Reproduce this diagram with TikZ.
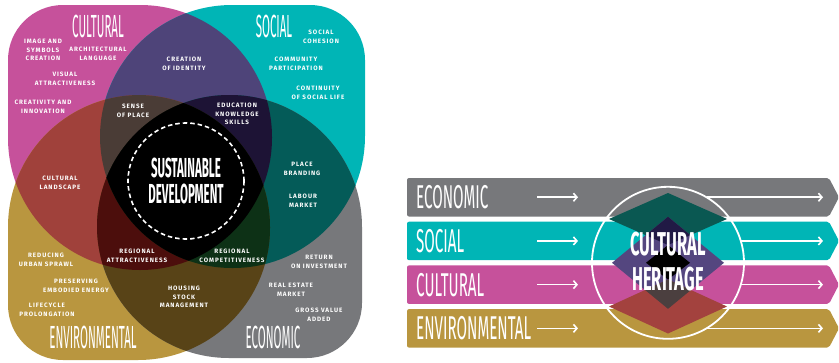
\documentclass[tikz,border=0pt]{standalone}
\usepackage{fontspec}
\usetikzlibrary{arrows.meta}
\newfontfamily\labelfont{Fira Sans}[LetterSpace=15]
\newfontfamily\titlefont{Fira Sans}[FakeStretch=0.36]
\newfontfamily\barfont{Fira Sans}[FakeStretch=0.46]
\newfontfamily\heritagefont{Fira Sans}[FakeStretch=0.5]
\newfontfamily\sdfont{Fira Sans}[FakeStretch=0.42]
\definecolor{culColor}{RGB}{198,81,155}
\definecolor{socColor}{RGB}{0,181,182}
\definecolor{envColor}{RGB}{185,150,63}
\definecolor{ecoColor}{RGB}{119,120,123}
\definecolor{culSoc}{RGB}{78,68,121}
\definecolor{culEnv}{RGB}{160,65,59}
\definecolor{socEco}{RGB}{4,91,88}
\definecolor{envEco}{RGB}{88,67,23}
\definecolor{culSocEnv}{RGB}{74,60,54}
\definecolor{culSocEco}{RGB}{29,19,53}
\definecolor{culEnvEco}{RGB}{76,14,12}
\definecolor{socEnvEco}{RGB}{13,49,22}
\definecolor{starTop}{RGB}{10,88,82}
\definecolor{starMid}{RGB}{84,70,127}
\definecolor{starBottom}{RGB}{163,66,62}
\definecolor{starNavy}{RGB}{33,26,69}
\definecolor{starBrown}{RGB}{75,63,63}
%% rounded blob: left, top, right, bottom, radii TL TR BR BL
\newcommand{\blob}[8]{(#1,#2+#5) arc[start angle=180,end angle=270,radius=#5]
  -- (#3-#6,#2) arc[start angle=270,end angle=360,radius=#6]
  -- (#3,#4-#7) arc[start angle=0,end angle=90,radius=#7]
  -- (#1+#8,#4) arc[start angle=90,end angle=180,radius=#8] -- cycle}
\def\culpath{\blob{8}{5}{272}{270}{55}{132}{132}{132}}
\def\socpath{\blob{100}{5}{365}{268}{132}{55}{132}{132}}
\def\envpath{\blob{8}{95}{270}{360}{132}{132}{132}{55}}
\def\ecopath{\blob{97}{95}{362}{358}{132}{132}{55}{132}}
\begin{document}
\begin{tikzpicture}
[x=1pt,y=-1pt,
  labelDecorate/.style={text=white,align=center,inner sep=0pt,
    font=\labelfont\bfseries\fontsize{6.3}{8.7}\selectfont},%
  titleDecorate/.style={text=white,inner sep=0pt,font=\titlefont\fontsize{32}{32}\selectfont},%
  barDecorate/.style={text=white,inner sep=0pt,anchor=west,font=\barfont\fontsize{33}{33}\selectfont},%
  arrowDecorate/.style={white,line width=1.6pt,-{Straight Barb[length=3.5pt,width=8pt]}}]
\useasboundingbox (0,0) rectangle (839,362);
%% four areas
\fill[culColor] \culpath;
\fill[socColor] \socpath;
\fill[envColor] \envpath;
\fill[ecoColor] \ecopath;
%% overlaps of two
\begin{scope}\clip \culpath; \fill[culSoc] \socpath; \end{scope}
\begin{scope}\clip \culpath; \fill[culEnv] \envpath; \end{scope}
\begin{scope}\clip \socpath; \fill[socEco] \ecopath; \end{scope}
\begin{scope}\clip \envpath; \fill[envEco] \ecopath; \end{scope}
%% overlaps of three
\begin{scope}\clip \culpath; \clip \socpath; \fill[culSocEnv] \envpath; \end{scope}
\begin{scope}\clip \culpath; \clip \socpath; \fill[culSocEco] \ecopath; \end{scope}
\begin{scope}\clip \culpath; \clip \envpath; \fill[culEnvEco] \ecopath; \end{scope}
\begin{scope}\clip \socpath; \clip \envpath; \fill[socEnvEco] \ecopath; \end{scope}
\begin{scope}\clip \culpath; \clip \socpath; \clip \envpath; \fill[black] \ecopath; \end{scope}
\draw[white,line width=1.6pt,dash pattern=on 4.5pt off 3pt] (186,181) circle[radius=58];
\node[text=white,align=center,inner sep=0pt,font=\sdfont\bfseries\fontsize{27.5}{26.5}\selectfont]
  (sustainable) at (186,181) {SUSTAINABLE\\DEVELOPMENT};
%% titles
\foreach \nodename/\x/\y/\words in {
  culTitle/98/26/CULTURAL, socTitle/274/26/SOCIAL,
  envTitle/93/337/ENVIRONMENTAL, ecoTitle/273/337/ECONOMIC}
{
  \node[titleDecorate] (\nodename) at (\x,\y) {\words};
}
%% labels
\foreach \nodename/\x/\y/\words in {
  imageSymbols/43/50/IMAGE AND\\SYMBOLS\\CREATION,
  archLanguage/98/54/ARCHITECTURAL\\LANGUAGE,
  visualAttr/65/79/VISUAL\\ATTRACTIVENESS,
  creativity/43/107/CREATIVITY AND\\INNOVATION,
  identity/184/64/CREATION\\OF IDENTITY,
  senseOfPlace/133/111/SENSE\\OF PLACE,
  cohesion/321/37/SOCIAL\\COHESION,
  community/296/64/COMMUNITY\\PARTICIPATION,
  continuity/318/93/CONTINUITY\\OF SOCIAL LIFE,
  education/237/114/EDUCATION\\KNOWLEDGE\\SKILLS,
  branding/302/169/PLACE\\BRANDING,
  labour/303/201/LABOUR\\MARKET,
  landscape/60/183/CULTURAL\\LANDSCAPE,
  attractiveness/137/256/REGIONAL\\ATTRACTIVENESS,
  competitiveness/232/256/REGIONAL\\COMPETITIVENESS,
  investment/319/262/RETURN\\ON INVESTMENT,
  sprawl/46/260/REDUCING\\URBAN SPRAWL,
  energy/76/286/PRESERVING\\EMBODIED ENERGY,
  housing/184/297/HOUSING\\STOCK\\MANAGEMENT,
  realEstate/291/290/REAL ESTATE\\MARKET,
  lifecycle/47/310/LIFECYCLE\\PROLONGATION,
  grossValue/319/315/GROSS VALUE\\ADDED}
{
  \node[labelDecorate] (\nodename) at (\x,\y) {\words};
}
%% bars
\foreach \nodename/\y/\col/\xs/\words in {
  ecoBar/178/ecoColor/706.5/ECONOMIC, socBar/221.7/socColor/740.8/SOCIAL,
  culBar/265.4/culColor/740.8/CULTURAL, envBar/309.1/envColor/706.5/ENVIRONMENTAL}
{
  \fill[\col,rounded corners=2pt] (407,\y) -- (829,\y) -- (839,\y+19.25)
    -- (829,\y+38.5) -- (407,\y+38.5) -- cycle;
  \node[barDecorate] (\nodename) at (416,\y+19.25) {\words};
  \coordinate (\nodename A) at (537,\y+19.25);
  \coordinate (\nodename B) at (578,\y+19.25);
  \coordinate (\nodename C) at (\xs,\y+19.25);
  \coordinate (\nodename D) at (823,\y+19.25);
}
%% star
\fill[starTop] (668,193) -- (727,219) -- (668,245) -- (609,219) -- cycle;
\fill[starMid] (668,216.8) -- (724,262.8) -- (668,308.8) -- (612,262.8) -- cycle;
\fill[starBottom] (668,279.5) -- (727,306.5) -- (668,333.5) -- (609,306.5) -- cycle;
\begin{scope}
  \clip (668,193) -- (727,219) -- (668,245) -- (609,219) -- cycle;
  \fill[starNavy] (668,216.8) -- (724,262.8) -- (668,308.8) -- (612,262.8) -- cycle;
\end{scope}
\begin{scope}
  \clip (668,279.5) -- (727,306.5) -- (668,333.5) -- (609,306.5) -- cycle;
  \fill[starBrown] (668,216.8) -- (724,262.8) -- (668,308.8) -- (612,262.8) -- cycle;
\end{scope}
\fill[black] (668,245) -- (690,262.8) -- (668,279.5) -- (646,262.8) -- cycle;
\draw[white,line width=1.8pt] (668,262.8) circle[radius=76];
\node[text=white,align=center,inner sep=0pt,font=\heritagefont\bfseries\fontsize{33}{35}\selectfont]
  (heritage) at (668,262) {CULTURAL\\HERITAGE};
%% arrows
\foreach \nodename in {ecoBar,socBar,culBar,envBar}
{
  \draw[arrowDecorate] (\nodename A) -- (\nodename B);
  \draw[arrowDecorate] (\nodename C) -- (\nodename D);
}
\end{tikzpicture}
\end{document}
